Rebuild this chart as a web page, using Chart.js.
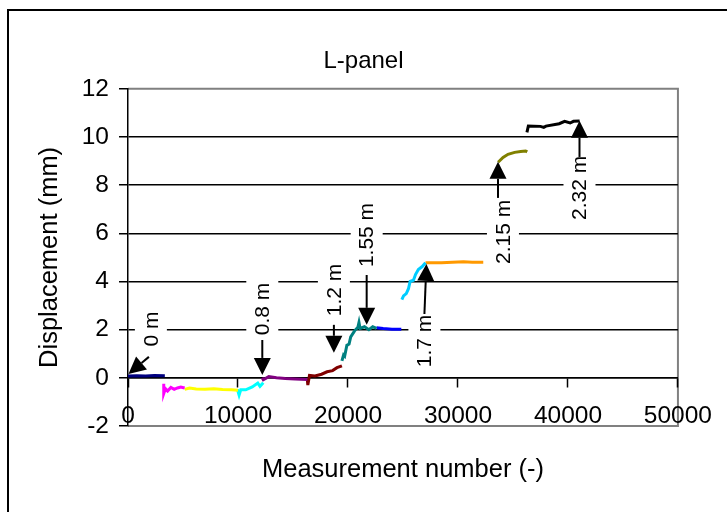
<!DOCTYPE html>
<html>
<head>
<meta charset="utf-8">
<script src="https://cdn.jsdelivr.net/npm/chart.js@4.4.1/dist/chart.umd.min.js"></script>
<style>
  html, body { margin: 0; padding: 0; background: #fff; }
  canvas { display: block; }
</style>
</head>
<body>
<canvas id="chart" width="727" height="512"></canvas>
<script>
// tick values
const xTicks = [0, 10000, 20000, 30000, 40000, 50000];
const yTicks = [-2, 0, 2, 4, 6, 8, 10, 12];

// measurement segments, [measurement number, displacement mm]
const seg0m = [[0, 0.08], [800, 0.09], [1600, 0.08], [2400, 0.1], [3350, 0.09]];
const segMagenta = [[3250, -0.25], [3250, -0.65], [3400, -0.45], [3600, -0.55], [3900, -0.4], [4200, -0.48], [4500, -0.42], [4800, -0.38], [5150, -0.42]];
const segYellow = [[5150, -0.48], [5600, -0.42], [6200, -0.46], [7000, -0.47], [7800, -0.45], [8600, -0.48], [9400, -0.5], [10000, -0.52]];
const segCyan = [[9950, -0.48], [10100, -0.72], [10250, -0.5], [10700, -0.5], [11300, -0.38], [11800, -0.22], [12000, -0.35], [12300, -0.2]];
const segPurple = [[12200, 0.0], [12300, -0.08], [12800, 0.05], [13500, 0.0], [14300, -0.03], [15200, -0.05], [16300, -0.07]];
const segMaroon = [[16300, -0.05], [16350, -0.3], [16500, 0.1], [17000, 0.08], [17600, 0.15], [18100, 0.25], [18600, 0.3], [19000, 0.42], [19450, 0.5]];
const segTeal = [[19450, 0.7], [19600, 0.95], [19700, 0.9], [19900, 1.35], [20100, 1.4], [20250, 1.7], [20600, 1.95], [20900, 2.1], [21000, 2.3], [21100, 2.05], [21500, 2.12], [21900, 2.0], [22250, 2.12], [22600, 2.05]];
const segBlue = [[22600, 2.08], [23200, 2.05], [24000, 2.02], [24850, 2.02]];
const segSky = [[24900, 3.25], [25050, 3.4], [25300, 3.5], [25500, 3.7], [25650, 4.0], [25950, 4.05], [26150, 4.3], [26400, 4.5], [26750, 4.62], [27050, 4.78]];
const segOrange = [[27050, 4.78], [28500, 4.78], [29500, 4.8], [30500, 4.82], [31300, 4.8], [32300, 4.8]];
const segOlive = [[33650, 8.95], [34100, 9.15], [34550, 9.28], [35150, 9.36], [35700, 9.4], [36150, 9.42], [36300, 9.38]];
const segBlack = [[36270, 10.19], [36400, 10.45], [37500, 10.44], [37800, 10.4], [38000, 10.45], [39200, 10.55], [39700, 10.65], [40200, 10.58], [40500, 10.65], [41060, 10.66]];

// distance labels: text centre and arrow (tail -> tip) in data units
const noteText = ["0 m", "0.8 m", "1.2 m", "1.55 m", "1.7 m", "2.15 m", "2.32 m"];
const noteAt = [[2080, 2.03], [12210, 2.86], [18720, 3.65], [21700, 5.93], [26950, 1.53], [34090, 6.06], [41050, 7.89]];
const noteTail = [[1900, 0.87], [12210, 1.57], [18720, 2.2], [21700, 4.27], [26950, 2.65], [33640, 7.47], [41050, 9.17]];
const noteTip = [[45, 0.16], [12210, 0.12], [18720, 1.04], [21700, 2.2], [27130, 4.73], [33640, 8.97], [41050, 10.67]];

const segments = [
  { data: seg0m, color: "#000080" },
  { data: segMagenta, color: "#FF00FF" },
  { data: segYellow, color: "#FFFF00" },
  { data: segCyan, color: "#00FFFF" },
  { data: segPurple, color: "#800080" },
  { data: segMaroon, color: "#800000" },
  { data: segTeal, color: "#008080" },
  { data: segBlue, color: "#0000FF" },
  { data: segSky, color: "#00CCFF" },
  { data: segOrange, color: "#FF9900" },
  { data: segOlive, color: "#808000" },
  { data: segBlack, color: "#000000" },
];

const FONT = "'Liberation Sans', Arial, sans-serif";

// white page, outer frame and grey plot border
const framePlugin = {
  id: "frame",
  beforeDraw(chart) {
    const { ctx, chartArea: a } = chart;
    ctx.save();
    ctx.fillStyle = "#ffffff";
    ctx.fillRect(0, 0, chart.width, chart.height);
    ctx.strokeStyle = "#000000";
    ctx.lineWidth = 2;
    ctx.strokeRect(8, 10, 760, 560);
    ctx.strokeStyle = "#808080";
    ctx.lineWidth = 2;
    ctx.beginPath();
    ctx.moveTo(a.left, a.top);
    ctx.lineTo(a.right, a.top);
    ctx.lineTo(a.right, a.bottom);
    ctx.lineTo(a.left, a.bottom);
    ctx.stroke();
    ctx.restore();
  },
};

// rotated labels with arrows
const notesPlugin = {
  id: "notes",
  afterDatasetsDraw(chart) {
    const { ctx } = chart;
    const sx = chart.scales.x;
    const sy = chart.scales.y;
    ctx.save();
    ctx.font = "21px " + FONT;
    noteText.forEach((text, i) => {
      const cx = sx.getPixelForValue(noteAt[i][0]);
      const cy = sy.getPixelForValue(noteAt[i][1]);
      const w = ctx.measureText(text).width;
      ctx.fillStyle = "#ffffff";
      ctx.fillRect(cx - 16, cy - w / 2 - 5, 32, w + 10);
      ctx.save();
      ctx.translate(cx, cy);
      ctx.rotate(-Math.PI / 2);
      ctx.fillStyle = "#000000";
      ctx.textAlign = "center";
      ctx.textBaseline = "middle";
      ctx.fillText(text, 0, 1);
      ctx.restore();

      const x1 = sx.getPixelForValue(noteTail[i][0]);
      const y1 = sy.getPixelForValue(noteTail[i][1]);
      const x2 = sx.getPixelForValue(noteTip[i][0]);
      const y2 = sy.getPixelForValue(noteTip[i][1]);
      const ang = Math.atan2(y2 - y1, x2 - x1);
      const head = 17;
      const half = 8.5;
      const bx = x2 - head * Math.cos(ang);
      const by = y2 - head * Math.sin(ang);
      ctx.strokeStyle = "#000000";
      ctx.lineWidth = 2;
      ctx.beginPath();
      ctx.moveTo(x1, y1);
      ctx.lineTo(bx, by);
      ctx.stroke();
      ctx.fillStyle = "#000000";
      ctx.beginPath();
      ctx.moveTo(x2, y2);
      ctx.lineTo(bx + half * Math.sin(ang), by - half * Math.cos(ang));
      ctx.lineTo(bx - half * Math.sin(ang), by + half * Math.cos(ang));
      ctx.closePath();
      ctx.fill();
    });
    ctx.restore();
  },
};

new Chart(document.getElementById("chart"), {
  type: "scatter",
  data: {
    datasets: segments.map((s) => ({
      data: s.data,
      showLine: true,
      borderColor: s.color,
      backgroundColor: s.color,
      borderWidth: 3,
      pointRadius: 0,
      tension: 0,
    })),
  },
  options: {
    responsive: false,
    animation: false,
    layout: { padding: 0 },
    plugins: {
      legend: { display: false },
      tooltip: { enabled: false },
      title: {
        display: true,
        text: "L-panel",
        color: "#000000",
        font: { family: FONT, size: 24, weight: "normal" },
        padding: { top: 47, bottom: 13 },
      },
    },
    scales: {
      x: {
        type: "linear",
        position: { y: 0 },
        min: 0,
        max: 50000,
        afterBuildTicks: (s) => { s.ticks = xTicks.map((v) => ({ value: v })); },
        grid: { drawOnChartArea: false, tickLength: 9, tickColor: "#000000", tickWidth: 1.5 },
        border: { display: true, color: "#000000", width: 1.5 },
        ticks: {
          color: "#000000",
          font: { family: FONT, size: 24.5 },
          padding: 15,
          maxRotation: 0,
          callback: (v) => String(v),
        },
      },
      x2: {
        type: "linear",
        position: "bottom",
        min: 0,
        max: 50000,
        grid: { display: false, drawTicks: false },
        border: { display: false },
        ticks: { display: false },
        afterFit: (s) => { s.height = 86; },
        title: {
          display: true,
          text: "Measurement number (-)",
          color: "#000000",
          font: { family: FONT, size: 25.5 },
          padding: { top: 0, bottom: 26.7 },
        },
      },
      y: {
        type: "linear",
        position: "left",
        min: -2,
        max: 12,
        afterBuildTicks: (s) => { s.ticks = yTicks.map((v) => ({ value: v })); },
        afterFit: (s) => { s.width = 128; },
        grid: {
          color: (c) => (c.tick && (c.tick.value === 12 || c.tick.value === -2) ? "rgba(0,0,0,0)" : "#000000"),
          lineWidth: 1.5,
          tickLength: 9,
          tickColor: "#000000",
          tickWidth: 1.5,
        },
        border: { display: true, color: "#000000", width: 1.5 },
        ticks: {
          color: "#000000",
          font: { family: FONT, size: 24.5 },
          padding: 10,
          callback: (v) => String(v),
        },
        title: {
          display: true,
          text: "Displacement (mm)",
          color: "#000000",
          font: { family: FONT, size: 25.5 },
          padding: { top: 35, bottom: 0 },
        },
      },
      yRight: {
        type: "linear",
        position: "right",
        min: -2,
        max: 12,
        grid: { display: false, drawTicks: false },
        border: { display: false },
        ticks: { display: false },
        afterFit: (s) => { s.width = 46; },
      },
    },
  },
  plugins: [framePlugin, notesPlugin],
});
</script>
</body>
</html>
